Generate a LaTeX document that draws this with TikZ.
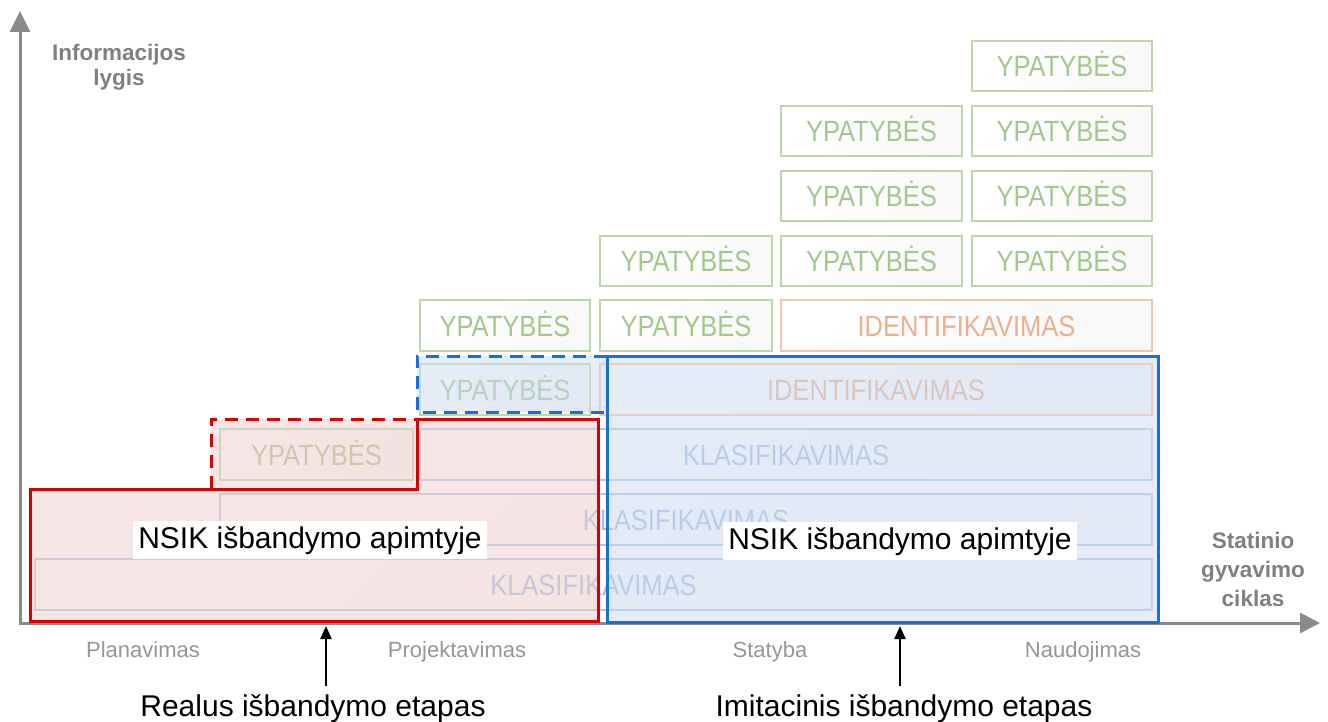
\documentclass[tikz,border=0pt]{standalone}
\usepackage{fontspec}
\setmainfont{Liberation Sans}
\usetikzlibrary{arrows.meta}

\definecolor{axisgray}{RGB}{138,138,138}
\definecolor{labgray}{RGB}{128,128,128}
\definecolor{stagegray}{RGB}{150,150,150}
\definecolor{grnline}{RGB}{188,215,172}
\definecolor{grntext}{RGB}{162,200,142}
\definecolor{orgline}{RGB}{242,198,172}
\definecolor{orgtext}{RGB}{236,176,142}
\definecolor{bluline}{RGB}{176,200,230}
\definecolor{blutext}{RGB}{162,192,226}
\definecolor{realred}{RGB}{214,0,0}
\definecolor{realfill}{RGB}{241,205,205}
\definecolor{imitblue}{RGB}{26,110,214}
\definecolor{imitfill}{RGB}{205,219,241}
\definecolor{boxshade}{RGB}{248,248,248}

% one level box: name, style, x1, y1, x2, y2, text
\newcommand\tierbox[7]{%
  \node[#2, minimum width={#5-#3}, minimum height={#6-#4}] (#1)
    at ({(#3+#5)/2},{(#4+#6)/2}) {\scalebox{1}[1.15]{#7}};}

\begin{document}
\begin{tikzpicture}[x=1pt,y=-1pt,
  tier/.style={draw, line width=2.4pt, inner sep=0pt,
    left color=white, right color=boxshade, shading angle=45,
    font=\fontsize{25.5}{30}\selectfont, text height=21pt, text depth=0pt},
  prop/.style={tier, draw=grnline, text=grntext},
  ident/.style={tier, draw=orgline, text=orgtext},
  klas/.style={tier, draw=bluline, text=blutext},
  axis/.style={draw=axisgray, line width=3pt},
  axlabel/.style={text=labgray, align=center, inner sep=0pt},
  stage/.style={text=stagegray, font=\fontsize{22}{25}\selectfont, anchor=base, inner sep=0pt},
  scope label/.style={fill=white, font=\fontsize{30}{34}\selectfont, inner sep=5pt, text height=22pt, text depth=6pt},
  phase/.style={font=\fontsize{30}{34}\selectfont, anchor=base, inner sep=0pt},
  pointer/.style={draw=black, line width=2pt, -{Triangle[length=13pt,width=11pt]}},
  realline/.style={draw=realred, line width=3pt},
  imitline/.style={draw=imitblue, line width=3pt}
]
\useasboundingbox (0,0) rectangle (1328,722);

% axes
\coordinate (origin) at (20,623);
\coordinate (ytip) at (20,11);
\coordinate (xtip) at (1320,623);
\draw[axis, {Triangle[length=21pt,width=20pt]}-{Triangle[length=20pt,width=20pt]}]
  (ytip) -- (origin) -- (xtip);

\node[axlabel, anchor=north, font=\bfseries\fontsize{22.5}{25}\selectfont] (ylab) at (119,44) {Informacijos\\lygis};
\node[axlabel, anchor=north, font=\bfseries\fontsize{22.5}{29}\selectfont] (xlab) at (1253,532) {Statinio\\gyvavimo\\ciklas};

% level boxes, bottom row first
\tierbox{k0}{klas}{35}{559}{1152}{610}{KLASIFIKAVIMAS}
\tierbox{k1}{klas}{220}{494}{1152}{545}{KLASIFIKAVIMAS}
\tierbox{p2a}{prop}{220}{429}{413}{480}{YPATYBĖS}
\tierbox{k2}{klas}{420}{429}{1152}{480}{KLASIFIKAVIMAS}
\tierbox{p3a}{prop}{420}{364}{590}{415}{YPATYBĖS}
\tierbox{i3}{ident}{600}{364}{1152}{415}{IDENTIFIKAVIMAS}
\tierbox{p4a}{prop}{420}{300}{590}{351}{YPATYBĖS}
\tierbox{p4b}{prop}{600}{300}{772}{351}{YPATYBĖS}
\tierbox{i4}{ident}{781}{300}{1152}{351}{IDENTIFIKAVIMAS}
\tierbox{p5a}{prop}{600}{236}{772}{286}{YPATYBĖS}
\tierbox{p5b}{prop}{781}{236}{962}{286}{YPATYBĖS}
\tierbox{p5c}{prop}{972}{236}{1152}{286}{YPATYBĖS}
\tierbox{p6b}{prop}{781}{171}{962}{221}{YPATYBĖS}
\tierbox{p6c}{prop}{972}{171}{1152}{221}{YPATYBĖS}
\tierbox{p7b}{prop}{781}{106}{962}{156}{YPATYBĖS}
\tierbox{p7c}{prop}{972}{106}{1152}{156}{YPATYBĖS}
\tierbox{p8c}{prop}{972}{41}{1152}{91}{YPATYBĖS}

% real trial scope
\fill[realfill, fill opacity=0.5]
  (30,489) -- (211,489) -- (211,419) -- (598,419) -- (598,621) -- (30,621) -- cycle;
\draw[realline] (30,489) -- (417,489) -- (417,419) -- (598,419) -- (598,621) -- (30,621) -- cycle;
\draw[realline, dash pattern=on 13pt off 8pt] (211,489) -- (211,419) -- (417,419);

% simulated trial scope
\fill[imitfill, fill opacity=0.5]
  (417,356) -- (607,356) -- (1158,356) -- (1158,622) -- (607,622) -- (607,412) -- (417,412) -- cycle;
\draw[imitline] (607,356) rectangle (1158,622);
\draw[imitline, dash pattern=on 13pt off 8pt] (607,356) -- (417,356) -- (417,412) -- (607,412);

\node[scope label] (nsikreal) at (310,540) {NSIK išbandymo apimtyje};
\node[scope label] (nsikimit) at (900,541) {NSIK išbandymo apimtyje};

% life-cycle stages
\node[stage] (s1) at (143,657) {Planavimas};
\node[stage] (s2) at (457,657) {Projektavimas};
\node[stage] (s3) at (770,657) {Statyba};
\node[stage] (s4) at (1083,657) {Naudojimas};

% trial phases
\node[phase] (realus) at (313,716) {Realus išbandymo etapas};
\node[phase] (imit) at (904,716) {Imitacinis išbandymo etapas};
\coordinate (ra) at (326,686);
\coordinate (rb) at (326,626);
\coordinate (ia) at (900,686);
\coordinate (ib) at (900,626);
\draw[pointer] (ra) -- (rb);
\draw[pointer] (ia) -- (ib);
\end{tikzpicture}
\end{document}
